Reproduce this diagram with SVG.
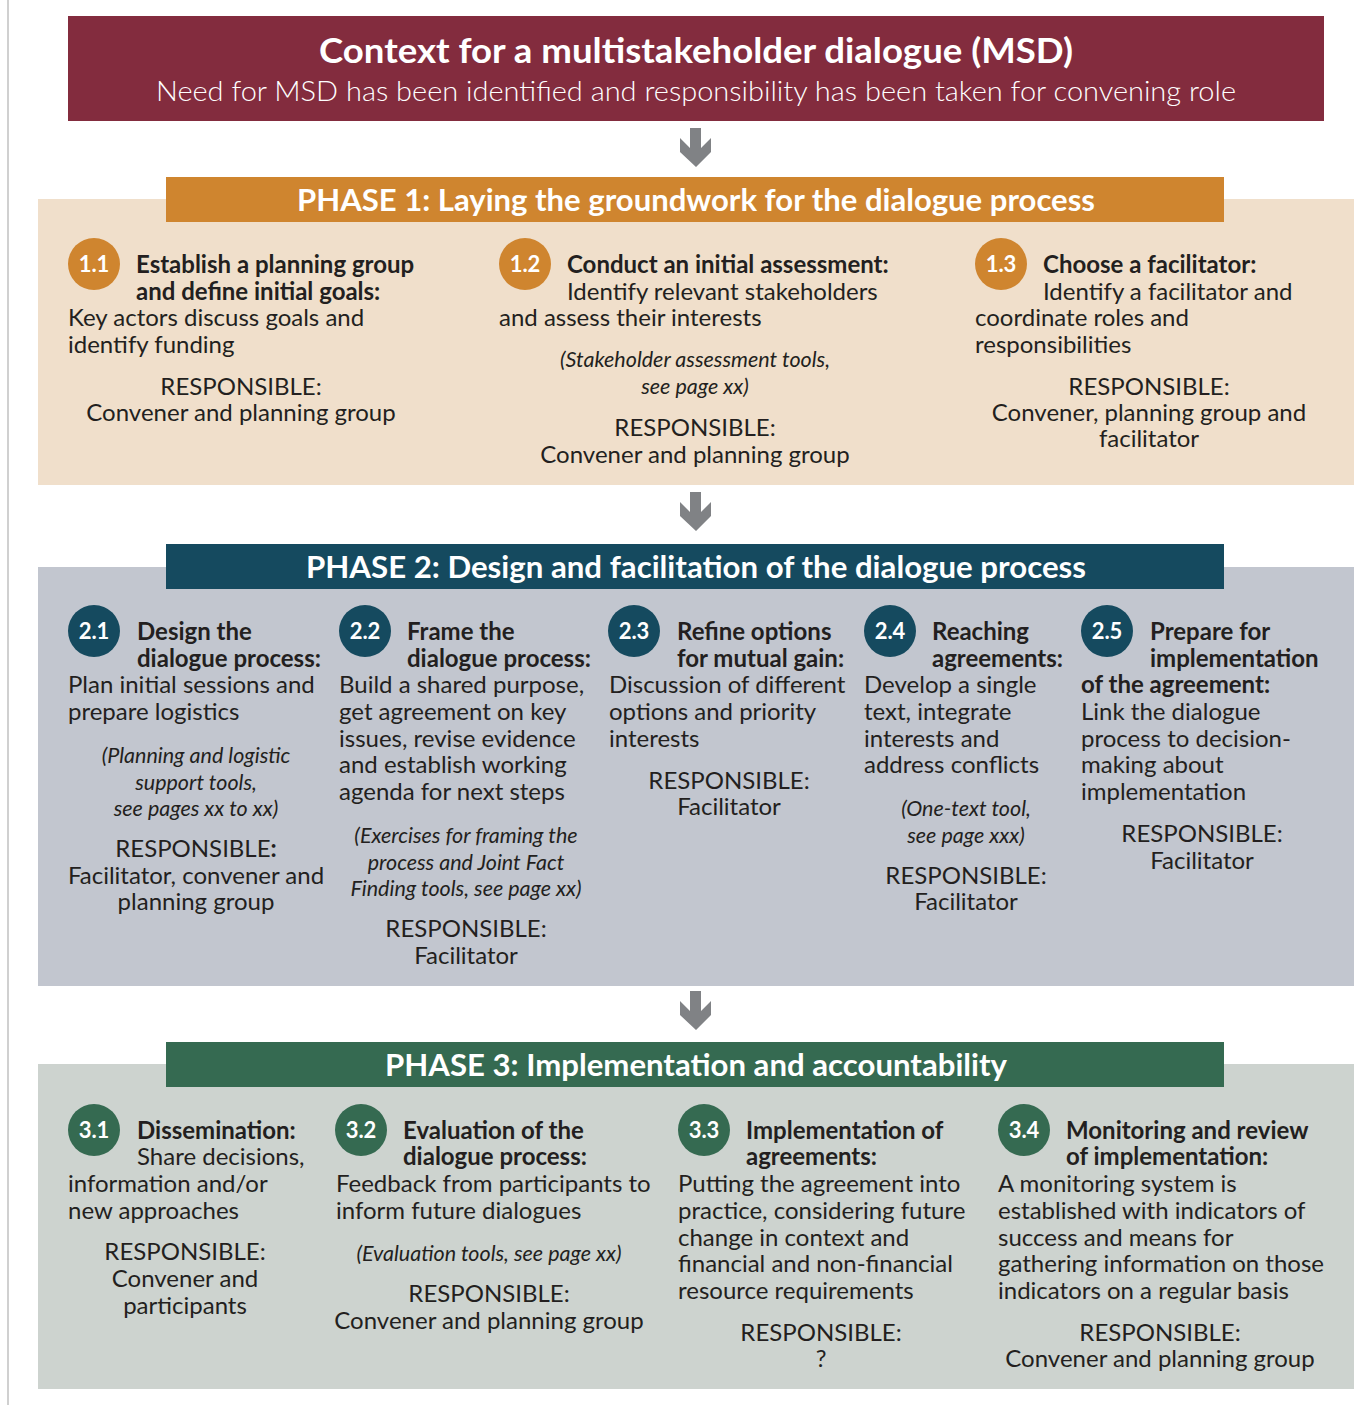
<svg xmlns="http://www.w3.org/2000/svg" width="1371" height="1405" viewBox="0 0 1371 1405">
<style>
text{font-family:Lato,"Noto Sans","Liberation Sans",sans-serif;fill:#231F20}
.b{font-size:24px;font-weight:400}
.t{font-size:24px;font-weight:700}
.i{font-size:21.5px;font-style:italic}
.c{text-anchor:middle}
.n{font-size:22px;font-weight:700;fill:#fff;text-anchor:middle}
.h{font-size:31px;font-weight:700;fill:#fff;text-anchor:middle}
.arrow{fill:#808285}
.c1{fill:#CF852F}.c2{fill:#154A5F}.c3{fill:#356A51}
</style>
<defs>
<polygon id="arr" class="arrow" points="690,0 701,0 701,20 711,10 711,24 696,39 680,24 680,10 690,20"/>
</defs>
<rect x="0" y="0" width="1371" height="1405" fill="#fff"/>
<line x1="8" y1="0" x2="8" y2="1405" stroke="#D0D0D0" stroke-width="2"/>

<g id="context">
<rect x="68" y="16" width="1256" height="105" fill="#832C3E"/>
<text x="696" y="63" class="c" style="font-size:35px;font-weight:700;fill:#fff" textLength="754" lengthAdjust="spacingAndGlyphs">Context for a multistakeholder dialogue (MSD)</text>
<text x="696" y="101" class="c" style="font-size:28px;font-weight:300;fill:#fff" textLength="1080" lengthAdjust="spacingAndGlyphs">Need for MSD has been identified and responsibility has been taken for convening role</text>
</g>

<g id="connectors">
<use href="#arr" y="128"/>
<use href="#arr" y="492"/>
<use href="#arr" y="991"/>
</g>

<g id="phase1">
<rect x="38" y="199" width="1316" height="286" fill="#F0DFCB"/>
<rect x="166" y="177" width="1058" height="45" fill="#CF852F"/>
<text x="696" y="211" class="h" textLength="798" lengthAdjust="spacingAndGlyphs">PHASE 1: Laying the groundwork for the dialogue process</text>
</g>

<g id="step11">
<circle cx="94" cy="264" r="26" class="c1"/>
<text x="94" y="272" class="n">1.1</text>
<text x="136" y="273" class="t">Establish a planning group</text>
<text x="136" y="300" class="t">and define initial goals:</text>
<text x="68" y="326" class="b">Key actors discuss goals and</text>
<text x="68" y="353" class="b">identify funding</text>
<text x="241" y="395" class="b c">RESPONSIBLE:</text>
<text x="241" y="421" class="b c">Convener and planning group</text>
</g>

<g id="step12">
<circle cx="525" cy="264" r="26" class="c1"/>
<text x="525" y="272" class="n">1.2</text>
<text x="567" y="273" class="t">Conduct an initial assessment:</text>
<text x="567" y="300" class="b">Identify relevant stakeholders</text>
<text x="499" y="326" class="b">and assess their interests</text>
<text x="695" y="367" class="i c">(Stakeholder assessment tools,</text>
<text x="695" y="394" class="i c">see page xx)</text>
<text x="695" y="436" class="b c">RESPONSIBLE:</text>
<text x="695" y="463" class="b c">Convener and planning group</text>
</g>

<g id="step13">
<circle cx="1001" cy="264" r="26" class="c1"/>
<text x="1001" y="272" class="n">1.3</text>
<text x="1043" y="273" class="t">Choose a facilitator:</text>
<text x="1043" y="300" class="b">Identify a facilitator and</text>
<text x="975" y="326" class="b">coordinate roles and</text>
<text x="975" y="353" class="b">responsibilities</text>
<text x="1149" y="395" class="b c">RESPONSIBLE:</text>
<text x="1149" y="421" class="b c">Convener, planning group and</text>
<text x="1149" y="447" class="b c">facilitator</text>
</g>

<g id="phase2">
<rect x="38" y="567" width="1316" height="419" fill="#C2C6CF"/>
<rect x="166" y="544" width="1058" height="45" fill="#154A5F"/>
<text x="696" y="578" class="h" textLength="780" lengthAdjust="spacingAndGlyphs">PHASE 2: Design and facilitation of the dialogue process</text>
</g>

<g id="step21">
<circle cx="94" cy="631" r="26" class="c2"/>
<text x="94" y="639" class="n">2.1</text>
<text x="137" y="640" class="t">Design the</text>
<text x="137" y="667" class="t">dialogue process:</text>
<text x="68" y="693" class="b">Plan initial sessions and</text>
<text x="68" y="720" class="b">prepare logistics</text>
<text x="196" y="763" class="i c">(Planning and logistic</text>
<text x="196" y="790" class="i c">support tools,</text>
<text x="196" y="816" class="i c">see pages xx to xx)</text>
<text x="196" y="857" class="b c">RESPONSIBLE<tspan font-weight="700">:</tspan></text>
<text x="196" y="884" class="b c">Facilitator, convener and</text>
<text x="196" y="910" class="b c">planning group</text>
</g>

<g id="step22">
<circle cx="365" cy="631" r="26" class="c2"/>
<text x="365" y="639" class="n">2.2</text>
<text x="407" y="640" class="t">Frame the</text>
<text x="407" y="667" class="t">dialogue process:</text>
<text x="339" y="693" class="b">Build a shared purpose,</text>
<text x="339" y="720" class="b">get agreement on key</text>
<text x="339" y="747" class="b">issues, revise evidence</text>
<text x="339" y="773" class="b">and establish working</text>
<text x="339" y="800" class="b">agenda for next steps</text>
<text x="466" y="843" class="i c">(Exercises for framing the</text>
<text x="466" y="870" class="i c">process and Joint Fact</text>
<text x="466" y="896" class="i c">Finding tools, see page xx)</text>
<text x="466" y="937" class="b c">RESPONSIBLE:</text>
<text x="466" y="964" class="b c">Facilitator</text>
</g>

<g id="step23">
<circle cx="634" cy="631" r="26" class="c2"/>
<text x="634" y="639" class="n">2.3</text>
<text x="677" y="640" class="t">Refine options</text>
<text x="677" y="667" class="t">for mutual gain:</text>
<text x="609" y="693" class="b">Discussion of different</text>
<text x="609" y="720" class="b">options and priority</text>
<text x="609" y="747" class="b">interests</text>
<text x="729" y="789" class="b c">RESPONSIBLE:</text>
<text x="729" y="815" class="b c">Facilitator</text>
</g>

<g id="step24">
<circle cx="890" cy="631" r="26" class="c2"/>
<text x="890" y="639" class="n">2.4</text>
<text x="932" y="640" class="t">Reaching</text>
<text x="932" y="667" class="t">agreements:</text>
<text x="864" y="693" class="b">Develop a single</text>
<text x="864" y="720" class="b">text, integrate</text>
<text x="864" y="747" class="b">interests and</text>
<text x="864" y="773" class="b">address conflicts</text>
<text x="966" y="816" class="i c">(One-text tool,</text>
<text x="966" y="843" class="i c">see page xxx)</text>
<text x="966" y="884" class="b c">RESPONSIBLE:</text>
<text x="966" y="910" class="b c">Facilitator</text>
</g>

<g id="step25">
<circle cx="1107" cy="631" r="26" class="c2"/>
<text x="1107" y="639" class="n">2.5</text>
<text x="1150" y="640" class="t">Prepare for</text>
<text x="1150" y="667" class="t">implementation</text>
<text x="1081" y="693" class="t">of the agreement:</text>
<text x="1081" y="720" class="b">Link the dialogue</text>
<text x="1081" y="747" class="b">process to decision-</text>
<text x="1081" y="773" class="b">making about</text>
<text x="1081" y="800" class="b">implementation</text>
<text x="1202" y="842" class="b c">RESPONSIBLE:</text>
<text x="1202" y="869" class="b c">Facilitator</text>
</g>

<g id="phase3">
<rect x="38" y="1064" width="1316" height="325" fill="#CDD3CF"/>
<rect x="166" y="1042" width="1058" height="45" fill="#356A51"/>
<text x="696" y="1076" class="h" textLength="622" lengthAdjust="spacingAndGlyphs">PHASE 3: Implementation and accountability</text>
</g>

<g id="step31">
<circle cx="94" cy="1130" r="26" class="c3"/>
<text x="94" y="1138" class="n">3.1</text>
<text x="137" y="1139" class="t">Dissemination:</text>
<text x="137" y="1165" class="b">Share decisions,</text>
<text x="68" y="1192" class="b">information and/or</text>
<text x="68" y="1219" class="b">new approaches</text>
<text x="185" y="1260" class="b c">RESPONSIBLE:</text>
<text x="185" y="1287" class="b c">Convener and</text>
<text x="185" y="1314" class="b c">participants</text>
</g>

<g id="step32">
<circle cx="361" cy="1130" r="26" class="c3"/>
<text x="361" y="1138" class="n">3.2</text>
<text x="403" y="1139" class="t">Evaluation of the</text>
<text x="403" y="1165" class="t">dialogue process:</text>
<text x="336" y="1192" class="b">Feedback from participants to</text>
<text x="336" y="1219" class="b">inform future dialogues</text>
<text x="489" y="1261" class="i c">(Evaluation tools, see page xx)</text>
<text x="489" y="1302" class="b c">RESPONSIBLE:</text>
<text x="489" y="1329" class="b c">Convener and planning group</text>
</g>

<g id="step33">
<circle cx="704" cy="1130" r="26" class="c3"/>
<text x="704" y="1138" class="n">3.3</text>
<text x="746" y="1139" class="t">Implementation of</text>
<text x="746" y="1165" class="t">agreements:</text>
<text x="678" y="1192" class="b">Putting the agreement into</text>
<text x="678" y="1219" class="b">practice, considering future</text>
<text x="678" y="1246" class="b">change in context and</text>
<text x="678" y="1272" class="b">financial and non-financial</text>
<text x="678" y="1299" class="b">resource requirements</text>
<text x="821" y="1341" class="b c">RESPONSIBLE:</text>
<text x="821" y="1367" class="b c">?</text>
</g>

<g id="step34">
<circle cx="1024" cy="1130" r="26" class="c3"/>
<text x="1024" y="1138" class="n">3.4</text>
<text x="1066" y="1139" class="t">Monitoring and review</text>
<text x="1066" y="1165" class="t">of implementation:</text>
<text x="998" y="1192" class="b">A monitoring system is</text>
<text x="998" y="1219" class="b">established with indicators of</text>
<text x="998" y="1246" class="b">success and means for</text>
<text x="998" y="1272" class="b">gathering information on those</text>
<text x="998" y="1299" class="b">indicators on a regular basis</text>
<text x="1160" y="1341" class="b c">RESPONSIBLE:</text>
<text x="1160" y="1367" class="b c">Convener and planning group</text>
</g>
</svg>
